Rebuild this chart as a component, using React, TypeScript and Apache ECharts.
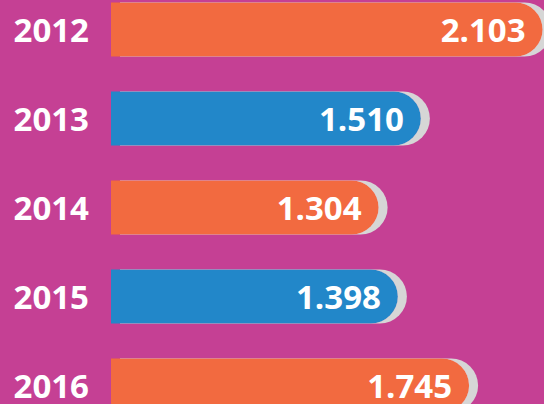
import React, { useEffect, useRef } from "react";
import * as echarts from "echarts";

const years = ["2012", "2013", "2014", "2015", "2016"];
const values = [2.103, 1.51, 1.304, 1.398, 1.745];
const valueLabels = ["2.103", "1.510", "1.304", "1.398", "1.745"];
const barColors = ["#F26B3F", "#2287C9", "#F26B3F", "#2287C9", "#F26B3F"];

export default function App() {
  const ref = useRef<HTMLDivElement>(null);
  useEffect(() => {
    if (!ref.current) return;
    const chart = echarts.init(ref.current, null, { renderer: "svg" });
    chart.setOption({
      animation: false,
      backgroundColor: "#C54094",
      grid: { left: 111, right: 0, top: 0, bottom: 0, containLabel: false },
      xAxis: { type: "value", min: 0, max: 2.11, show: false },
      yAxis: {
        type: "category",
        inverse: true,
        data: years,
        axisLine: { show: false },
        axisTick: { show: false },
        splitLine: { show: false },
        axisLabel: {
          color: "#FFFFFF",
          fontFamily: "Open Sans",
          fontWeight: "bold",
          fontSize: 33,
          margin: 22,
        },
      },
      series: [
        {
          type: "bar",
          barWidth: 54,
          data: values.map((v, i) => ({
            value: v,
            itemStyle: { color: barColors[i] },
            label: { formatter: valueLabels[i] },
          })),
          itemStyle: {
            borderRadius: [0, 27, 27, 0],
            shadowColor: "#D6D6D6",
            shadowOffsetX: 9,
            shadowOffsetY: 0,
            shadowBlur: 0,
          },
          label: {
            show: true,
            position: "insideRight",
            distance: 17,
            color: "#FFFFFF",
            fontFamily: "Open Sans",
            fontWeight: "bold",
            fontSize: 33,
          },
        },
      ],
    });
    return () => chart.dispose();
  }, []);
  return (
    <div
      ref={ref}
      style={{ position: "fixed", left: 0, top: -15, width: 544, height: 445 }}
    />
  );
}
